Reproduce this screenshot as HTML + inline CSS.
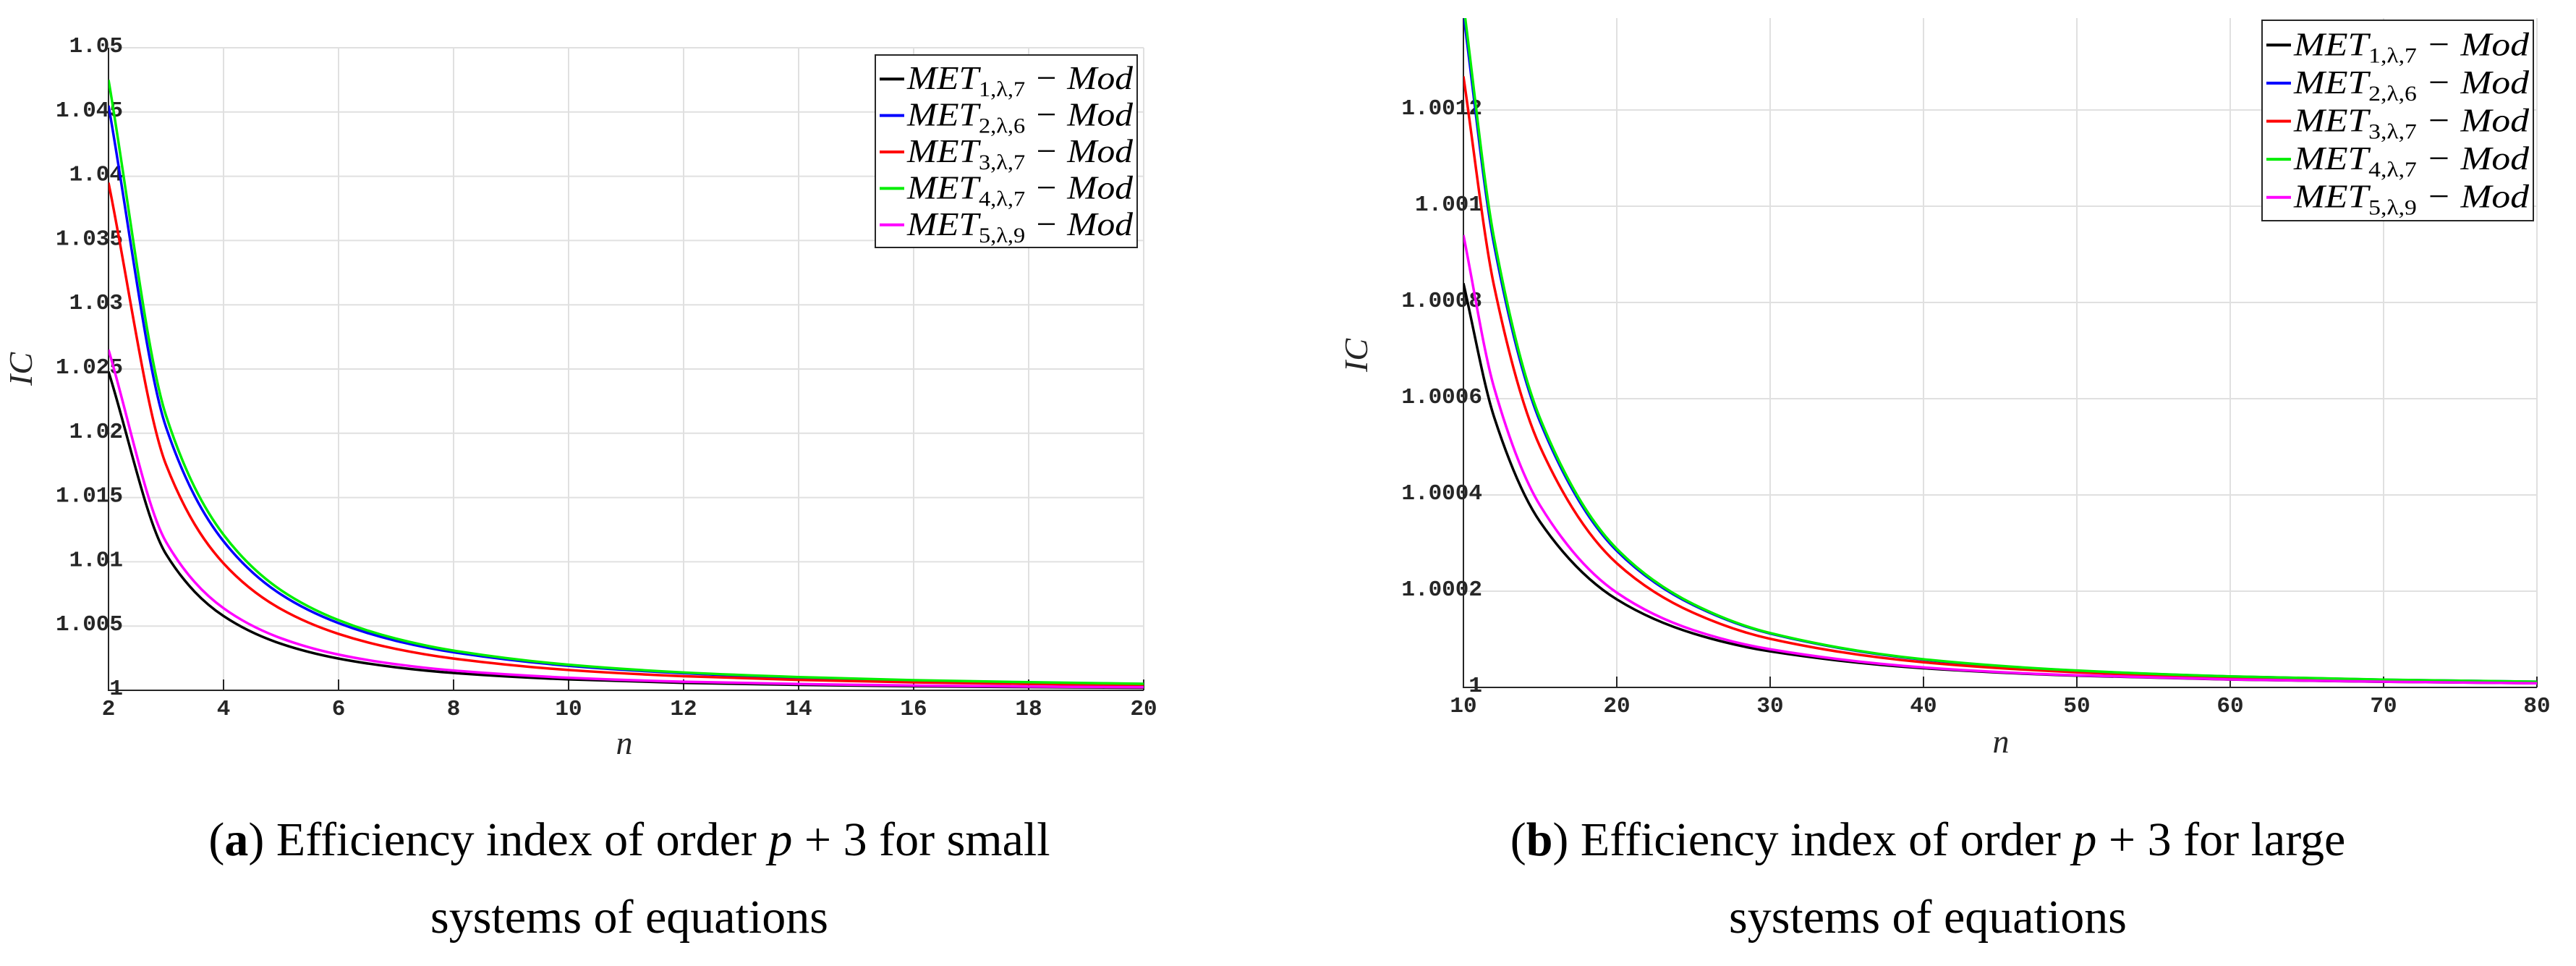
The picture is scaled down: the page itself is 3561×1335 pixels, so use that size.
<!DOCTYPE html>
<html><head><meta charset="utf-8"><style>
body{margin:0;background:#fff;}
svg{display:block;}
.tick{font-family:"Liberation Mono",monospace;font-weight:bold;font-size:31px;fill:#262626;}
.ax{font-family:"Liberation Serif",serif;font-style:italic;font-size:46px;fill:#262626;}
.leg{font-family:"Liberation Serif",serif;font-style:italic;font-size:46px;fill:#000;}
.cap{font-family:"Liberation Serif",serif;font-size:66px;fill:#000;}
</style></head><body>
<svg id="fig" width="3561" height="1335" viewBox="0 0 3561 1335" xmlns="http://www.w3.org/2000/svg">
<g id="chartA"></g>
<g id="chartB"></g>
<text class="cap" x="870" y="1182" text-anchor="middle">(<tspan font-weight="bold">a</tspan>) Efficiency index of order <tspan font-style="italic">p</tspan> + 3 for small</text>
<text class="cap" x="870" y="1289" text-anchor="middle">systems of equations</text>
<text class="cap" x="2665" y="1182" text-anchor="middle">(<tspan font-weight="bold">b</tspan>) Efficiency index of order <tspan font-style="italic">p</tspan> + 3 for large</text>
<text class="cap" x="2665" y="1289" text-anchor="middle">systems of equations</text>
</svg>
<script>
const NS="http://www.w3.org/2000/svg";
const seriesNames=["MET1","MET2","MET3","MET4","MET5"];
const seriesColors=["#000000","#0000ff","#ff0000","#00ee00","#ff00ff"];
const seriesSubs=["1,λ,7","2,λ,6","3,λ,7","4,λ,7","5,λ,9"];
// Chart A data
const nA=[2,3,4,5,6,7,8,10,12,14,16,18,20];
const a_met1=[1.0248,1.0106,1.00578,1.00362,1.00247,1.00179,1.00135,1.00085,1.00058,1.00042,1.000315,1.000246,1.000197];
const a_met2=[1.0455,1.02048,1.0116,1.00746,1.00523,1.00385,1.00296,1.00191,1.00133,1.00098,1.00076,1.0006,1.00049];
const a_met3=[1.0395,1.01756,1.00988,1.00632,1.00439,1.00322,1.00247,1.00158,1.0011,1.00081,1.00062,1.00049,1.0004];
const a_met4=[1.0475,1.02138,1.01211,1.00779,1.00546,1.00402,1.00309,1.00199,1.00139,1.00103,1.00079,1.00063,1.00051];
const a_met5=[1.0265,1.01155,1.00639,1.00405,1.00278,1.00203,1.00154,1.00098,1.00067,1.00049,1.00037,1.00029,1.00024];
const xTicksA=[2,4,6,8,10,12,14,16,18,20];
const yTicksA=[1,1.005,1.01,1.015,1.02,1.025,1.03,1.035,1.04,1.045,1.05];
const yLabelsA=["1","1.005","1.01","1.015","1.02","1.025","1.03","1.035","1.04","1.045","1.05"];
// Chart B data
const nB=[10,12,15,20,25,30,40,50,60,70,80];
const b_met1=[1.00084,1.000562,1.000344,1.000183,1.000112,1.0000749,1.0000399,1.0000244,1.0000163,1.0000117,1.0000087];
const b_met2=[1.00140,1.00092,1.000552,1.000284,1.000171,1.000112,1.0000577,1.0000346,1.0000227,1.000016,1.0000118];
const b_met3=[1.00127,1.000834,1.0005,1.000258,1.000155,1.000101,1.0000523,1.0000314,1.0000206,1.0000145,1.0000107];
const b_met4=[1.00142,1.000933,1.000559,1.000288,1.000173,1.000113,1.0000585,1.0000351,1.000023,1.0000162,1.0000119];
const b_met5=[1.00094,1.000623,1.000378,1.000197,1.000119,1.0000793,1.0000415,1.0000251,1.0000166,1.0000118,1.0000087];
const xTicksB=[10,20,30,40,50,60,70,80];
const yTicksB=[1,1.0002,1.0004,1.0006,1.0008,1.001,1.0012];
const yLabelsB=["1","1.0002","1.0004","1.0006","1.0008","1.001","1.0012"];

function mk(tag,attrs,parent){const e=document.createElementNS(NS,tag);for(const k in attrs)e.setAttribute(k,attrs[k]);parent.appendChild(e);return e;}

function monotonePath(pts){
  const n=pts.length,dx=[],m=[],t=new Array(n);
  for(let i=0;i<n-1;i++){dx.push(pts[i+1][0]-pts[i][0]);m.push((pts[i+1][1]-pts[i][1])/dx[i]);}
  t[0]=m[0];t[n-1]=m[n-2];
  for(let i=1;i<n-1;i++){t[i]=(m[i-1]*m[i]<=0)?0:(dx[i-1]+dx[i])*3/((2*dx[i]+dx[i-1])/m[i-1]+(dx[i]+2*dx[i-1])/m[i]);}
  let d=`M${pts[0][0]},${pts[0][1]}`;
  for(let i=0;i<n-1;i++){
    const h=dx[i]/3;
    d+=`C${pts[i][0]+h},${pts[i][1]+t[i]*h} ${pts[i+1][0]-h},${pts[i+1][1]-t[i+1]*h} ${pts[i+1][0]},${pts[i+1][1]}`;
  }
  return d;
}

function draw(g,id,cfg,xs,series,xTicks,yTicks,yLabels){
  const sx=v=>cfg.x0+(v-cfg.xmin)/(cfg.xmax-cfg.xmin)*(cfg.x1-cfg.x0);
  const sy=v=>cfg.yb-(v-cfg.ymin)/(cfg.yref-cfg.ymin)*(cfg.yb-cfg.yrefPx);
  const defs=mk("defs",{},g);
  const cp=mk("clipPath",{id:id+"clip"},defs);
  mk("rect",{x:cfg.x0,y:cfg.ytop,width:cfg.x1-cfg.x0+4,height:cfg.yb-cfg.ytop},cp);
  xTicks.forEach(t=>{
    const l=mk("line",{x1:sx(t),x2:sx(t),y1:cfg.ytop,y2:cfg.yb,stroke:"#e0e0e0","stroke-width":2},g);
    
    
    const tk=mk("line",{x1:sx(t),x2:sx(t),y1:cfg.yb-15,y2:cfg.yb,stroke:"#262626","stroke-width":2},g);
    
    
    const tx=mk("text",{x:sx(t),y:cfg.yb+34,"text-anchor":"middle",class:"tick"},g);
    tx.textContent=t;
    
    
  });
  yTicks.forEach((t,i)=>{
    const l=mk("line",{x1:cfg.x0,x2:cfg.x1,y1:sy(t),y2:sy(t),stroke:"#e0e0e0","stroke-width":2},g);
    
    
    const tx=mk("text",{x:cfg.x0+cfg.lblOff,y:sy(t)+6,"text-anchor":"end",class:"tick"},g);
    tx.textContent=yLabels[i];
    
    
  });
  const ax=mk("path",{d:`M${cfg.x0},${cfg.ytop}V${cfg.yb}H${cfg.x1}`,fill:"none",stroke:"#262626","stroke-width":2},g);
  
  
  series.forEach((vals,si)=>{
    const pts=xs.map((x,i)=>[sx(x),sy(vals[i])]);
    const p=mk("path",{d:monotonePath(pts),fill:"none",stroke:seriesColors[si],"stroke-width":3.5,"clip-path":`url(#${id}clip)`},g);
    
    
  });
  const xl=mk("text",{x:cfg.nx,y:cfg.ny,"text-anchor":"middle",class:"ax"},g);
  xl.textContent="n";
  
  
  const yl=mk("text",{x:0,y:0,"text-anchor":"middle",class:"ax",transform:`translate(${cfg.icx},${cfg.icy}) rotate(-90)`},g);
  yl.textContent="IC";
  
  
  const lg=mk("g",{},g);
  
  
  mk("rect",{x:cfg.lx,y:cfg.ly,width:cfg.lw,height:cfg.lh,fill:"#fff",stroke:"#262626","stroke-width":2},lg);
  const rowH=(cfg.lh-14)/5;
  seriesNames.forEach((nm,si)=>{
    const cy=cfg.ly+8+rowH*(si+0.5);
    const e=mk("g",{},lg);
    
    
    mk("line",{x1:cfg.lx+6,x2:cfg.lx+40,y1:cy,y2:cy,stroke:seriesColors[si],"stroke-width":4},e);
    const t=mk("text",{x:cfg.lx+44,y:cy+14,class:"leg",textLength:cfg.lw-50,lengthAdjust:"spacingAndGlyphs"},e);
    t.innerHTML=`MET<tspan font-size="30" font-style="normal" dy="10">${seriesSubs[si]}</tspan><tspan dy="-10"> − Mod</tspan>`;
  });
}
draw(document.getElementById("chartA"),"A",
 {x0:150,x1:1581,xmin:2,xmax:20,ytop:66,yb:954,ymin:1,yref:1.05,yrefPx:66,lblOff:20,nx:863,ny:1042,icx:44,icy:510,lx:1210,ly:76,lw:362,lh:266},
 nA,[a_met1,a_met2,a_met3,a_met4,a_met5],xTicksA,yTicksA,yLabelsA);
draw(document.getElementById("chartB"),"B",
 {x0:2023,x1:3507,xmin:10,xmax:80,ytop:25,yb:950,ymin:1,yref:1.0012,yrefPx:152,lblOff:26,nx:2766,ny:1040,icx:1890,icy:491,lx:3127,ly:28,lw:375,lh:277},
 nB,[b_met1,b_met2,b_met3,b_met4,b_met5],xTicksB,yTicksB,yLabelsB);
</script>
</body></html>
